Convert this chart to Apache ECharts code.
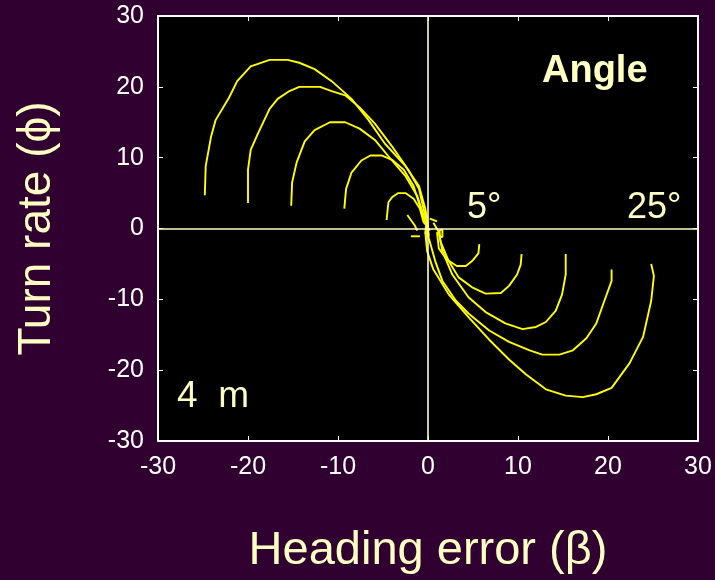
<!DOCTYPE html>
<html>
<head>
<meta charset="utf-8">
<script src="https://cdn.jsdelivr.net/npm/echarts@6/dist/echarts.min.js"></script>
<style>
html,body{margin:0;padding:0;background:#300030;}
#chart{width:715px;height:580px;}
</style>
</head>
<body>
<div id="chart"></div>
<script>
// Axis ticks
const xTicks = [-30, -20, -10, 0, 10, 20, 30];
const yTicks = [-30, -20, -10, 0, 10, 20, 30];

// Trajectories [heading error, turn rate]
const left25 = [[-24.8,4.7],[-24.7,8.8],[-24.1,13],[-23.6,15.3],[-22.1,18.5],[-21.2,20.8],[-19.7,22.9],[-17.6,23.8],[-15.6,23.8],[-14.3,23.4],[-12.6,22.5],[-10.7,20.8],[-8.5,18.3],[-6.6,15.3],[-4.8,12.0],[-2.5,8.8],[-1.0,6.0],[-0.3,2.8],[0,0.5],[-0.2,-1.5]];
const left20 = [[-20,3.6],[-20,8.3],[-19.7,11.1],[-18.9,13.4],[-17.6,16.9],[-16.7,18.3],[-15.4,19.4],[-14.3,20],[-12.0,20],[-10.7,19.4],[-9.2,18.8],[-7.6,17.1],[-5.9,14.8],[-4.0,11.6],[-2.2,8.3],[-1.0,5.6],[-0.5,2.8],[-0.1,0.8],[0.1,-1]];
const left15 = [[-15.2,3.2],[-15.1,6.5],[-14.6,9.3],[-13.7,12.3],[-12.6,13.9],[-10.9,15.0],[-9.2,15.0],[-7.6,14.1],[-5.9,12.5],[-4.4,10.2],[-2.5,7.4],[-1.2,4.6],[-0.5,1.9],[0,0.3],[-0.3,-0.8]];
const left10 = [[-9.3,2.8],[-9.1,5.6],[-8.5,7.9],[-7.4,9.6],[-6.4,10.3],[-5.1,10.3],[-4.0,9.7],[-2.7,8.3],[-1.6,6.0],[-0.9,3.2],[-0.3,0.9],[0.2,-0.3]];
const left5 = [[-4.6,1.2],[-4.4,3.7],[-4.0,4.4],[-3.3,5.0],[-2.5,5.0],[-1.6,4.2],[-0.9,2.8],[-0.5,0.9],[0,0.2]];
const right25 = [[24.8,-5],[25.1,-6.7],[24.8,-10.2],[23.9,-15.3],[22.4,-19],[20.4,-22.5],[18.7,-23.4],[17.2,-23.8],[15.3,-23.6],[13.1,-22.7],[10.9,-20.6],[9.0,-18.5],[6.8,-15.7],[4.5,-12.5],[2.3,-9.3],[0.6,-5.8],[-0.1,-3.2],[-0.3,-0.5],[-0.1,1.5]];
const right20 = [[20.4,-5.8],[20.4,-7.4],[19.6,-10.2],[18.7,-13.4],[17.6,-15.5],[16.1,-17.2],[14.6,-17.8],[12.7,-17.8],[11.3,-17.2],[9.0,-16],[6.8,-14.4],[4.5,-12],[3.1,-10.2],[1.6,-7.4],[0.8,-4.6],[0.1,-1.4],[-0.2,1]];
const right15 = [[15.3,-3.6],[15.3,-6.5],[14.9,-9.3],[14.2,-11.6],[13.1,-13.2],[12.0,-13.9],[10.5,-14.2],[8.6,-13.4],[6.4,-11.8],[4.5,-9.7],[2.7,-6.5],[1.6,-3.2],[1.2,-0.5],[0.6,0.8]];
const right10 = [[10.4,-3.6],[10.3,-5.1],[9.9,-6.5],[9.0,-8.1],[8.1,-9.1],[6.4,-9.2],[4.9,-8.3],[3.4,-6.9],[2.3,-4.6],[1.4,-1.9],[1.2,-0.3]];
const right5 = [[5.7,-2.2],[5.6,-3.5],[4.9,-4.6],[4.2,-5.3],[3.2,-5.3],[2.1,-4.4],[1.2,-2.8],[1.0,-0.5]];
const zeroA = [[-2.3,1.9],[-1.5,0.5],[-1.2,-0.3]];
const zeroB = [[-1.9,-1.1],[-0.9,-1.1]];
const zeroC = [[0.2,1.4],[1.0,1.0]];
const zeroD = [[1.3,-0.2],[1.6,-0.2],[1.6,-1.2],[1.3,-1.2],[1.3,-0.2]];

const trajectories = [left25,left20,left15,left10,left5,right25,right20,right15,right10,right5,zeroA,zeroB,zeroC,zeroD];

const FONT = '"Liberation Sans", Arial, sans-serif';
const CREAM = '#ffffc4';

const chart = echarts.init(document.getElementById('chart'), null, {renderer:'canvas'});

const baseAxis = {
  min: -30, max: 30, interval: 10,
  splitLine: {show:false},
  axisLine: {show:true, onZero:false, lineStyle:{color:'#ffffff', width:2}},
  axisTick: {show:true, inside:true, length:5, lineStyle:{color:'#ffffff', width:1}}
};

const series = trajectories.map((d, i) => ({
  type: 'line',
  data: d,
  showSymbol: false,
  symbol: 'none',
  lineStyle: {color:'#ffff00', width:1.9},
  silent: true,
  animation: false,
  z: 3
}));
series.push({
  type: 'line',
  data: [],
  silent: true,
  animation: false,
  markLine: {
    silent: true,
    symbol: 'none',
    label: {show:false},
    lineStyle: {color: CREAM, width: 1.6, type:'solid'},
    data: [{xAxis: 0}, {yAxis: 0}],
    animation: false
  },
  z: 2
});

chart.setOption({
  backgroundColor: '#300030',
  animation: false,
  grid: {left:158, right:17, top:16, bottom:138, show:true, backgroundColor:'#000000', borderWidth:0},
  xAxis: [
    Object.assign({}, baseAxis, {
      type:'value', position:'bottom',
      axisLabel:{color:'#ffffff', fontSize:25, fontFamily:FONT, margin:14,
        formatter: v => xTicks.includes(v) ? String(v) : ''},
      name: 'Heading error (\u03B2)', nameLocation:'middle', nameGap:87,
      nameTextStyle:{color:CREAM, fontSize:47, fontFamily:FONT}
    }),
    Object.assign({}, baseAxis, {type:'value', position:'top', axisLabel:{show:false}})
  ],
  yAxis: [
    Object.assign({}, baseAxis, {
      type:'value', position:'left',
      axisLabel:{color:'#ffffff', fontSize:25, fontFamily:FONT, margin:14,
        formatter: v => yTicks.includes(v) ? String(v) : ''},
      name: 'Turn rate (\u03D5)', nameLocation:'middle', nameGap:98,
      nameTextStyle:{color:CREAM, fontSize:46, fontFamily:FONT}
    }),
    Object.assign({}, baseAxis, {type:'value', position:'right', axisLabel:{show:false}})
  ],
  graphic: [
    {type:'text', left:542, top:53, style:{text:'Angle', fill:CREAM, font:'bold 38px ' + FONT}, z:10},
    {type:'text', left:467, top:190, style:{text:'5\u00B0', fill:CREAM, font:'36px ' + FONT}, z:10},
    {type:'text', left:627, top:190, style:{text:'25\u00B0', fill:CREAM, font:'36px ' + FONT}, z:10},
    {type:'text', left:177, top:378, style:{text:'4  m', fill:CREAM, font:'37px ' + FONT}, z:10}
  ],
  series: series
});
</script>
</body>
</html>
